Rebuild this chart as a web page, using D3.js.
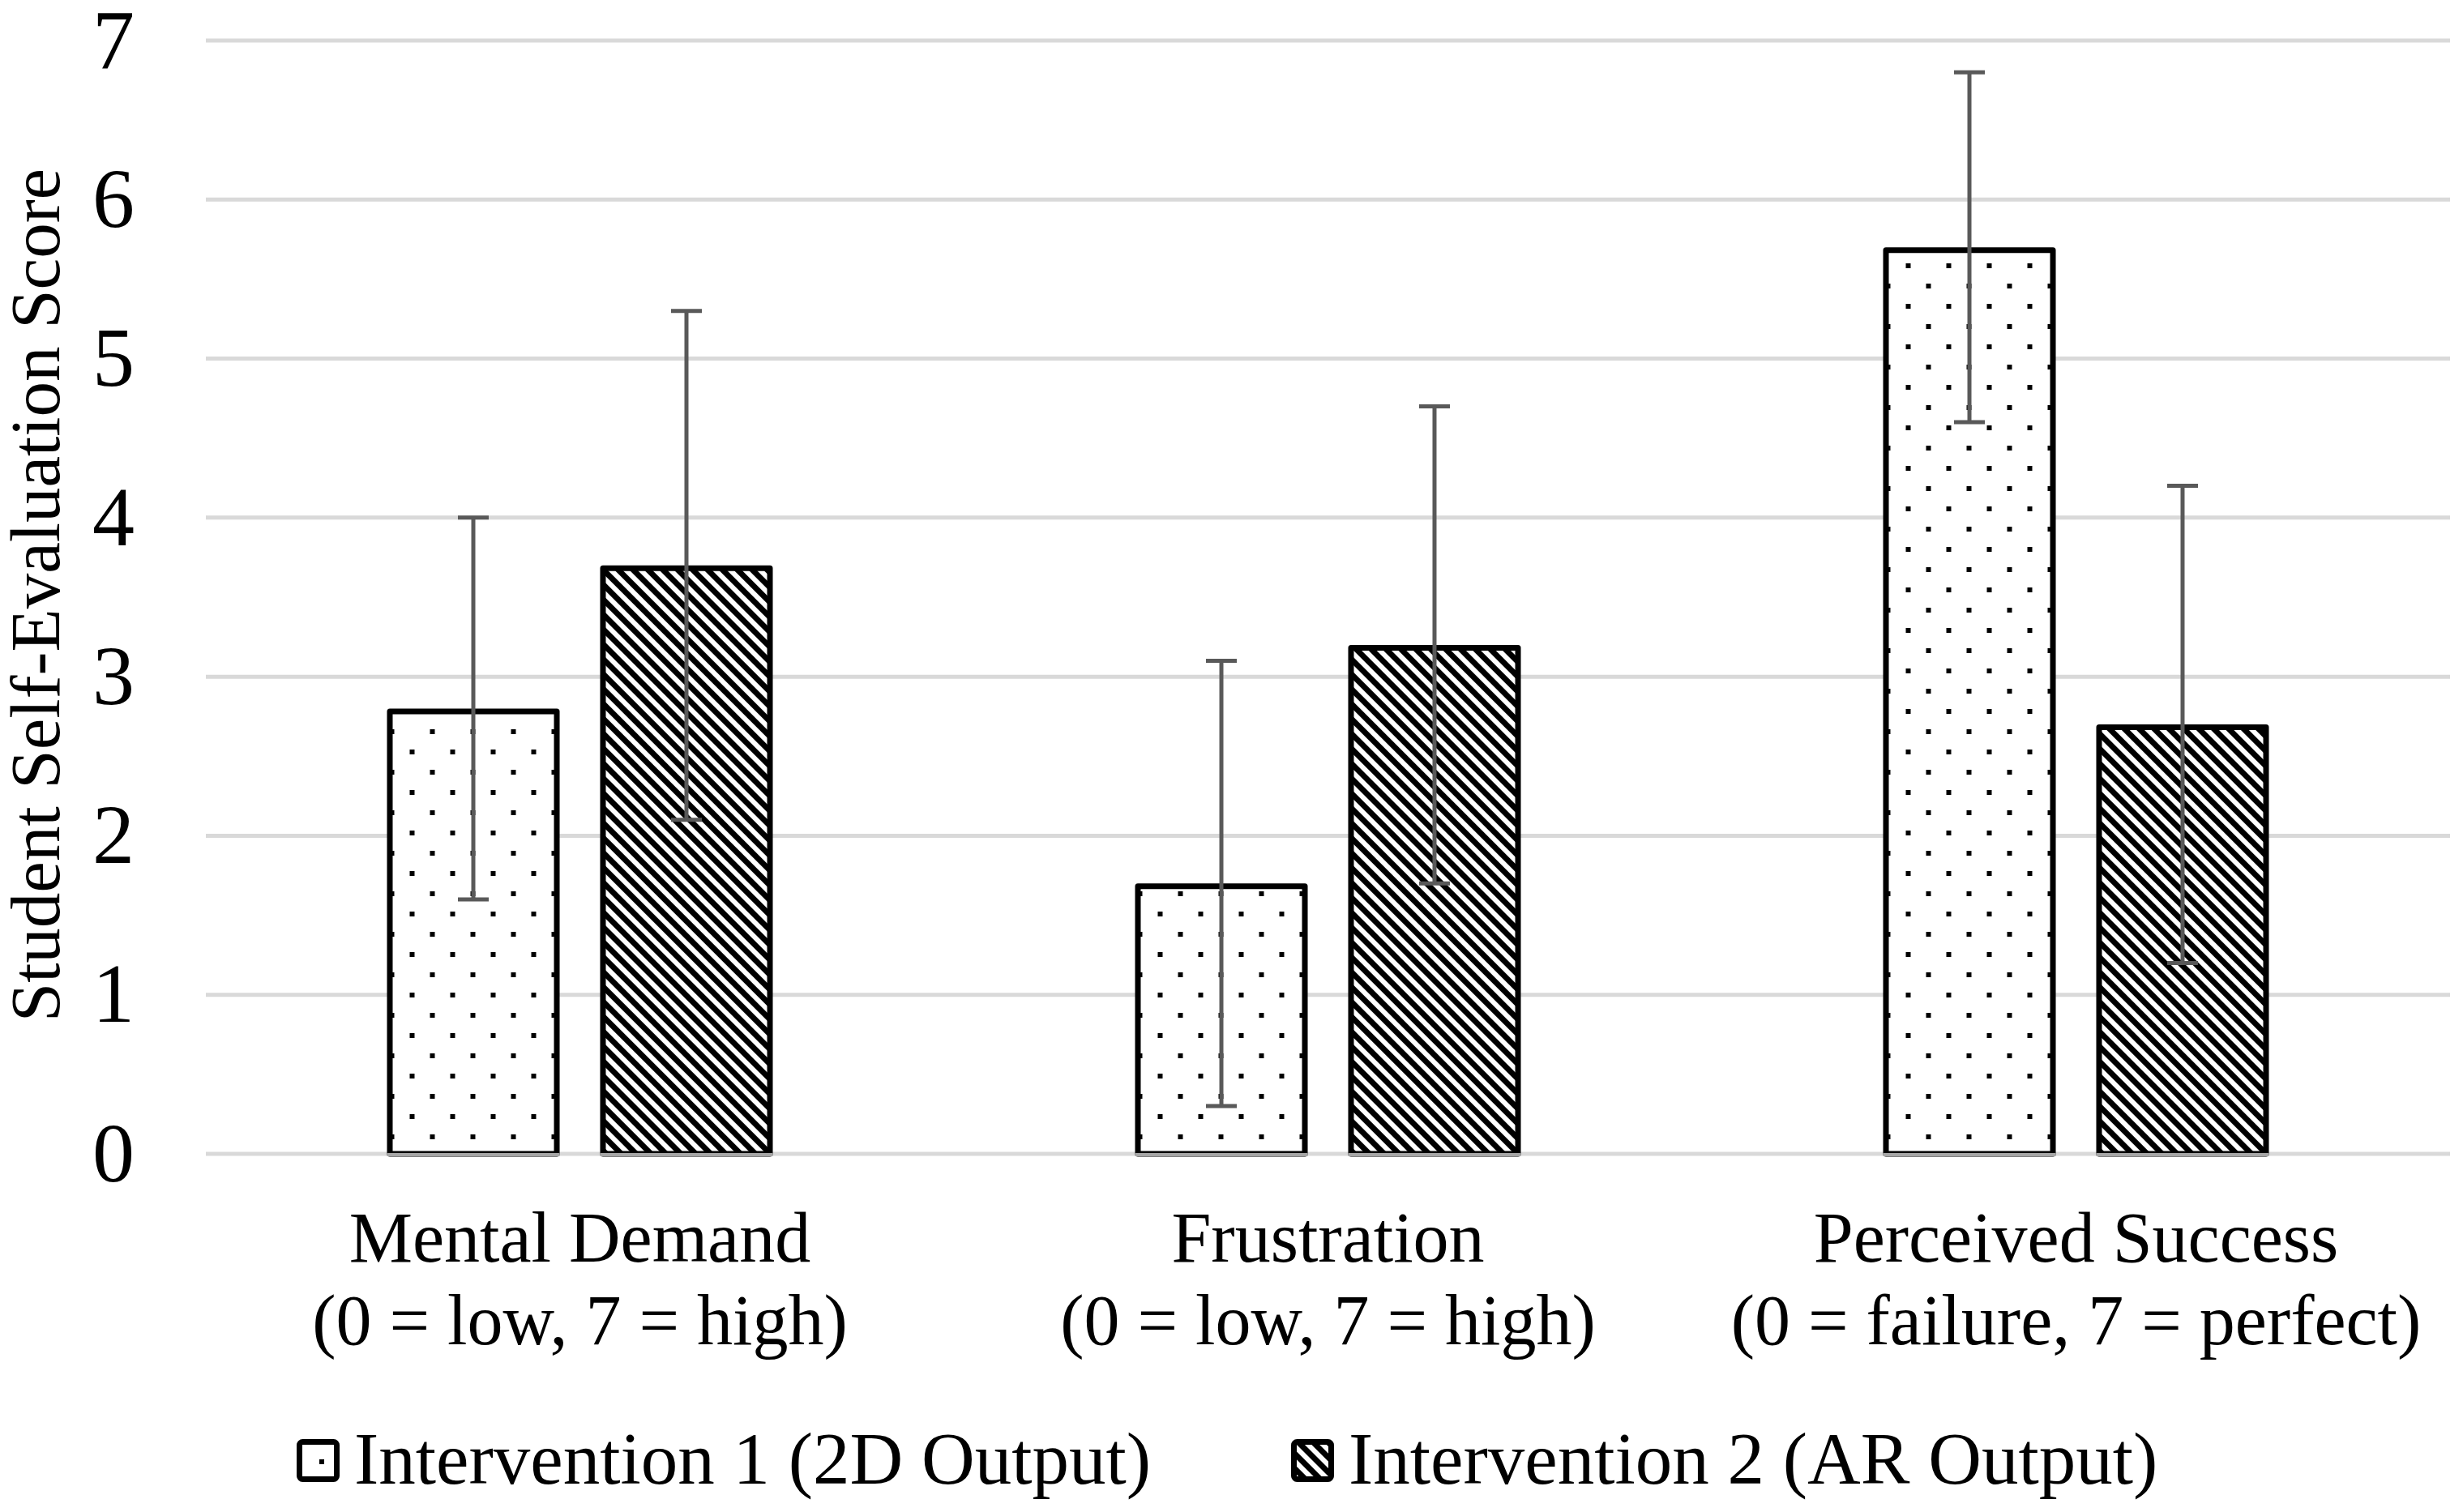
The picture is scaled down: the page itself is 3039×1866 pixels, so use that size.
<!DOCTYPE html>
<html>
<head>
<meta charset="utf-8">
<script src="https://cdn.jsdelivr.net/npm/d3@7"></script>
<style>
  body { margin: 0; background: #fff; }
  text { font-family: "Liberation Serif", "Times New Roman", serif; fill: #000; }
</style>
</head>
<body>
<div id="chart"></div>
<script>
// Data
const categories = ["Mental Demand", "Frustration", "Perceived Success"];
const subLabels = ["(0 = low, 7 = high)", "(0 = low, 7 = high)", "(0 = failure, 7 = perfect)"];
const seriesNames = ["Intervention 1 (2D Output)", "Intervention 2 (AR Output)"];
const means2D = [2.8, 1.7, 5.7];
const errors2D = [1.2, 1.4, 1.1];
const meansAR = [3.7, 3.2, 2.7];
const errorsAR = [1.6, 1.5, 1.5];
const yTicks = [0, 1, 2, 3, 4, 5, 6, 7];

const W = 3039, H = 1866;
const plotLeft = 254, plotRight = 3023, plotTop = 50, plotBottom = 1424;

const svg = d3.select("#chart").append("svg")
    .attr("width", W)
    .attr("height", H);

svg.append("rect").attr("width", W).attr("height", H).attr("fill", "#fff");

// Patterns
const defs = svg.append("defs");
const dots = defs.append("pattern")
    .attr("id", "dots")
    .attr("patternUnits", "userSpaceOnUse")
    .attr("width", 50).attr("height", 50)
    .attr("x", 3).attr("y", 0);
dots.append("rect").attr("width", 50).attr("height", 50).attr("fill", "#fff");
dots.append("rect").attr("x", 0).attr("y", 0).attr("width", 6).attr("height", 6).attr("fill", "#000");
dots.append("rect").attr("x", 25).attr("y", 25).attr("width", 6).attr("height", 6).attr("fill", "#000");

const stripes = defs.append("pattern")
    .attr("id", "stripes")
    .attr("patternUnits", "userSpaceOnUse")
    .attr("width", 13).attr("height", 13)
    .attr("patternTransform", "rotate(-45)");
stripes.append("rect").attr("width", 13).attr("height", 13).attr("fill", "#fff");
stripes.append("rect").attr("width", 7).attr("height", 13).attr("fill", "#000");

const fills = ["url(#dots)", "url(#stripes)"];

// Scales
const y = d3.scaleLinear().domain([0, 7]).range([plotBottom, plotTop]);
const x0 = d3.scaleBand().domain(categories).range([plotLeft, plotRight]).padding(0);
const groupWidth = 476;
const x1 = d3.scaleBand().domain([0, 1]).range([0, groupWidth]).paddingInner(0.19).paddingOuter(0);

// Gridlines
svg.append("g")
    .selectAll("line")
    .data(yTicks)
    .join("line")
    .attr("x1", plotLeft).attr("x2", plotRight)
    .attr("y1", d => y(d)).attr("y2", d => y(d))
    .attr("stroke", "#d9d9d9")
    .attr("stroke-width", 5);

// Y axis labels
const yAxis = svg.append("g")
    .attr("transform", `translate(${plotLeft},0)`)
    .call(d3.axisLeft(y).tickValues(yTicks).tickSize(0).tickPadding(88).tickFormat(d3.format("d")));
yAxis.select(".domain").remove();
yAxis.selectAll("text")
    .attr("font-family", "Liberation Serif")
    .attr("font-size", 104)
    .attr("fill", "#000");

// Y axis title
svg.append("text")
    .attr("transform", `translate(73,${(196 + 1273) / 2}) rotate(-90)`)
    .attr("text-anchor", "middle")
    .attr("font-size", 87)
    .text("Student Self-Evaluation Score");

// Bars
const rows = categories.map((c, i) => ({
    cat: c,
    vals: [
        { s: 0, v: means2D[i], e: errors2D[i] },
        { s: 1, v: meansAR[i], e: errorsAR[i] }
    ]
}));

const groups = svg.append("g")
    .selectAll("g")
    .data(rows)
    .join("g")
    .attr("transform", d => `translate(${x0(d.cat) + x0.bandwidth() / 2 - groupWidth / 2},0)`);

const sw = 7;
groups.selectAll("rect")
    .data(d => d.vals)
    .join("rect")
    .attr("x", d => x1(d.s) + sw / 2)
    .attr("width", x1.bandwidth() - sw)
    .attr("y", d => y(d.v) + sw / 2)
    .attr("height", d => y(0) - y(d.v) - sw / 2)
    .attr("fill", d => fills[d.s])
    .attr("stroke", "#000")
    .attr("stroke-width", sw)
    .attr("stroke-linejoin", "round");

// baseline under bars
groups.selectAll("line.base")
    .data(d => d.vals)
    .join("line")
    .attr("class", "base")
    .attr("x1", d => x1(d.s))
    .attr("x2", d => x1(d.s) + x1.bandwidth())
    .attr("y1", y(0) + 1).attr("y2", y(0) + 1)
    .attr("stroke", "#a6a6a6")
    .attr("stroke-width", 4);

// Error bars
const errG = groups.selectAll("g.err")
    .data(d => d.vals)
    .join("g")
    .attr("class", "err")
    .attr("stroke", "#595959")
    .attr("stroke-width", 5);
errG.append("line")
    .attr("x1", d => x1(d.s) + x1.bandwidth() / 2)
    .attr("x2", d => x1(d.s) + x1.bandwidth() / 2)
    .attr("y1", d => y(d.v + d.e))
    .attr("y2", d => y(d.v - d.e));
errG.append("line")
    .attr("x1", d => x1(d.s) + x1.bandwidth() / 2 - 19)
    .attr("x2", d => x1(d.s) + x1.bandwidth() / 2 + 19)
    .attr("y1", d => y(d.v + d.e))
    .attr("y2", d => y(d.v + d.e));
errG.append("line")
    .attr("x1", d => x1(d.s) + x1.bandwidth() / 2 - 19)
    .attr("x2", d => x1(d.s) + x1.bandwidth() / 2 + 19)
    .attr("y1", d => y(d.v - d.e))
    .attr("y2", d => y(d.v - d.e));

// Category labels
const catLabels = svg.append("g")
    .selectAll("text")
    .data(categories)
    .join("text")
    .attr("text-anchor", "middle")
    .attr("font-size", 88)
    .attr("x", d => x0(d) + x0.bandwidth() / 2)
    .attr("y", 1557);
catLabels.append("tspan")
    .attr("x", d => x0(d) + x0.bandwidth() / 2)
    .text(d => d);
catLabels.append("tspan")
    .attr("x", d => x0(d) + x0.bandwidth() / 2)
    .attr("dy", 102)
    .text((d, i) => subLabels[i]);

// Legend
const legendX = [366, 1593];
const legend = svg.append("g")
    .selectAll("g")
    .data(seriesNames)
    .join("g")
    .attr("transform", (d, i) => `translate(${legendX[i]},1776)`);
legend.append("rect")
    .attr("x", 3.5).attr("y", 3.5)
    .attr("width", 46).attr("height", 46)
    .attr("rx", 4)
    .attr("fill", (d, i) => fills[i])
    .attr("stroke", "#000")
    .attr("stroke-width", 7);
legend.append("text")
    .attr("x", 71)
    .attr("y", 55)
    .attr("font-size", 91)
    .text(d => d);
</script>
</body>
</html>
